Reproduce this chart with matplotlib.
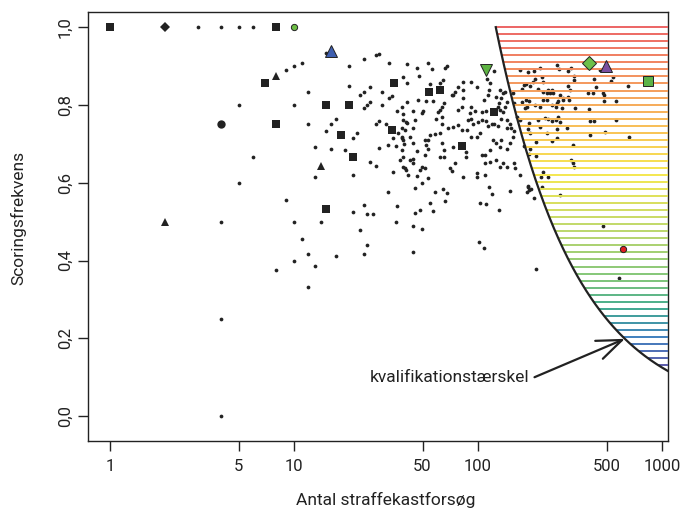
import numpy as np
import matplotlib
matplotlib.use('Agg')
import matplotlib.pyplot as plt
from matplotlib.colors import LinearSegmentedColormap

plt.rcParams['font.family'] = ['Roboto', 'DejaVu Sans']

#------------------------------------------------------------------
# data: (attempts, scoring frequency)
#------------------------------------------------------------------

# few attempts (integer fractions)
dots_low = [(3, 1.0), (4, 1.0), (5, 1.0), (6, 1.0), (4, 0.5), (4, 0.25), (4, 0.0),
            (5, 0.8), (5, 0.6), (6, 0.667), (8, 0.375), (9, 0.889), (10, 0.9), (11, 0.909),
            (12, 0.833), (10, 0.8), (12, 0.75), (13, 0.692), (13, 0.615), (9, 0.556),
            (10, 0.5), (14, 0.5), (11, 0.455), (12, 0.417), (10, 0.4), (13, 0.385),
            (12, 0.333)]

# below the qualification threshold
dots_mid = [(15, 0.933), (20, 0.9), (24, 0.917), (28, 0.929), (29, 0.931), (33, 0.909), (41, 0.905),
            (20, 0.85), (23, 0.826), (24, 0.833), (26, 0.846), (30, 0.833), (33, 0.818), (34, 0.824),
            (41, 0.857), (24, 0.792), (25, 0.8), (26, 0.808), (30, 0.8), (36.5, 0.784), (38.6, 0.795),
            (41.4, 0.808), (17, 0.765), (16, 0.75), (15, 0.733), (22, 0.727), (21, 0.714), (28, 0.75),
            (29, 0.759), (31.6, 0.75), (38.5, 0.742), (40.5, 0.756), (34.6, 0.714), (38.6, 0.716),
            (36.9, 0.728), (32.5, 0.696), (35.8, 0.694), (39.6, 0.699), (16, 0.688), (19, 0.684),
            (29, 0.69), (26, 0.654), (28, 0.643), (37.7, 0.658), (40, 0.637),
            (46.4, 0.894), (53.7, 0.907), (56, 0.892), (66.3, 0.896), (68.1, 0.9), (47.6, 0.875),
            (39, 0.871), (54.8, 0.855), (64.9, 0.864), (62, 0.857), (92, 0.859), (83.3, 0.858),
            (78, 0.847), (75, 0.834), (73.6, 0.825), (83.3, 0.838), (82.8, 0.817), (99, 0.847),
            (111.7, 0.868), (117, 0.857), (123, 0.888), (115, 0.838), (108, 0.814), (114, 0.825),
            (132, 0.838), (137, 0.832), (141, 0.834), (126, 0.821), (134, 0.817), (144, 0.808),
            (130, 0.804), (47.4, 0.812), (52.5, 0.81), (57, 0.81), (39.4, 0.776), (44.6, 0.784),
            (49.5, 0.78), (50.6, 0.785), (65, 0.804), (63.5, 0.795), (62, 0.787), (60.7, 0.782),
            (72, 0.825), (82, 0.795), (78.4, 0.787), (92, 0.795), (90.5, 0.78), (96.5, 0.785),
            (104.9, 0.782), (110, 0.785), (128, 0.795), (132, 0.787), (137, 0.782), (141, 0.795),
            (39.4, 0.761), (41, 0.754), (45.3, 0.761), (40, 0.735), (44.6, 0.742), (59.5, 0.765),
            (63.5, 0.768), (63.5, 0.752), (69, 0.742), (73.6, 0.744), (78.4, 0.748), (82, 0.735),
            (86.9, 0.735), (88.6, 0.761), (92, 0.765), (94, 0.752), (99.7, 0.757), (105, 0.761),
            (111, 0.759), (114, 0.746), (118.6, 0.752), (123, 0.752), (128, 0.746), (134, 0.765),
            (143, 0.761), (149, 0.752), (143, 0.742), (152, 0.742), (158, 0.733), (155, 0.718),
            (38.5, 0.718), (39.4, 0.71), (42.7, 0.718), (44.6, 0.701), (51.6, 0.711), (53.6, 0.71),
            (52.5, 0.697), (54.8, 0.722), (62, 0.727), (58.5, 0.725), (73.6, 0.692), (63.5, 0.701),
            (65, 0.684), (86, 0.679), (86, 0.667), (98.4, 0.718), (102.5, 0.727), (92, 0.718),
            (121, 0.71), (126, 0.701), (132, 0.692), (134, 0.71), (143, 0.688), (149, 0.701),
            (105, 0.671), (109, 0.671), (116, 0.684), (38.5, 0.684), (39.4, 0.667), (44.6, 0.662),
            (46.4, 0.681), (51.6, 0.671), (53.6, 0.688), (62, 0.667), (65, 0.667), (42.7, 0.658),
            (44.6, 0.651), (49.5, 0.641), (51.6, 0.637), (39.4, 0.641), (70.4, 0.637), (75, 0.65),
            (109, 0.65), (116, 0.654), (126, 0.658), (132, 0.641), (143, 0.641), (158, 0.65),
            (160, 0.637), (21, 0.619), (34.6, 0.628), (40.6, 0.634), (41.6, 0.619), (21, 0.524),
            (24, 0.542), (25, 0.52), (27, 0.519), (32.6, 0.576), (36.5, 0.541), (36, 0.5),
            (23, 0.478), (17, 0.412), (25, 0.44), (24, 0.417), (48.4, 0.632), (46.4, 0.617),
            (49.5, 0.6), (53.7, 0.611), (45.3, 0.587), (58.5, 0.577), (64.3, 0.585), (67.5, 0.574),
            (66.3, 0.553), (54.8, 0.547), (56.7, 0.527), (48.4, 0.531), (45.3, 0.523), (44.6, 0.489),
            (49.5, 0.48), (44.6, 0.422), (72.6, 0.63), (82.7, 0.615), (98.4, 0.625), (98.4, 0.615),
            (109.6, 0.621), (137.5, 0.651), (169, 0.62), (186, 0.591), (190, 0.581), (115, 0.589),
            (120, 0.57), (149, 0.579), (102.5, 0.548), (111, 0.545), (130, 0.53), (101, 0.447),
            (108, 0.431), (155, 0.831), (158, 0.804), (163, 0.768)]

# above the qualification threshold
dots_high = [(268, 0.904), (322, 0.896), (310, 0.887), (277, 0.892), (460, 0.891), (331, 0.874),
             (332, 0.864), (429, 0.868), (527, 0.861), (541, 0.871), (655, 0.849), (440, 0.847),
             (310, 0.848), (316, 0.838), (169, 0.889), (187, 0.885), (201, 0.887), (217, 0.894),
             (205, 0.868), (222, 0.872), (200, 0.859), (225, 0.858), (177, 0.851), (182, 0.853),
             (192, 0.848), (173, 0.842), (212, 0.84), (227, 0.834), (238, 0.83), (246, 0.83),
             (257, 0.831), (252, 0.838), (241, 0.838), (279, 0.825), (290, 0.817), (310, 0.821),
             (313, 0.812), (398, 0.83), (424, 0.83), (476, 0.831), (482, 0.825), (173, 0.808),
             (182, 0.812), (190, 0.81), (180, 0.791), (185, 0.795), (205, 0.8), (217, 0.795),
             (227, 0.812), (238, 0.812), (252, 0.8), (268, 0.805), (272, 0.81), (290, 0.814),
             (285, 0.791), (265, 0.795), (339, 0.791), (402, 0.79), (486, 0.81), (565, 0.811),
             (169, 0.761), (190, 0.754), (212, 0.761), (231, 0.767), (241, 0.763), (253, 0.758),
             (265, 0.761), (272, 0.768), (281, 0.757), (406, 0.758), (426, 0.758), (560, 0.761),
             (187, 0.737), (193, 0.727), (217, 0.744), (237, 0.728), (268, 0.737), (306, 0.74),
             (490, 0.731), (406, 0.724), (659, 0.718), (177, 0.694), (192, 0.686), (206, 0.705),
             (252, 0.708), (268, 0.714), (327, 0.696), (190, 0.674), (206, 0.668), (320, 0.658),
             (327, 0.65), (331, 0.641), (225, 0.628), (220, 0.614), (239, 0.615), (187, 0.589),
             (195, 0.583), (185, 0.577), (222, 0.589), (201, 0.56), (281, 0.568), (476, 0.489),
             (583, 0.355), (208, 0.379)]

# highlighted players
squares = [(1, 1.0), (8, 1.0), (7, 0.857), (8, 0.75), (15, 0.8), (20, 0.8), (18, 0.722),
           (21, 0.667), (15, 0.533), (35, 0.857), (34, 0.735), (54, 0.833), (62, 0.838),
           (82, 0.694), (123, 0.782)]
triangles = [(2, 0.5), (8, 0.875), (14, 0.643)]
diamonds = [(2, 1.0)]
big_circles = [(4, 0.75)]

# coloured players: (n, p, marker, colour, size)
colored = [(10, 1.0, 'o', '#6dbe45', 4.5),
           (16, 0.9375, '^', '#3f5fb0', 9),
           (111, 0.891, 'v', '#5db342', 9),
           (400, 0.908, 'D', '#6cbf4a', 7.5),
           (496, 0.901, '^', '#7a4fa0', 9),
           (838, 0.861, 's', '#5cb347', 7.5),
           (612, 0.429, 'o', '#e02020', 4.5)]

# qualification threshold: at least 125 scored
min_scored = 125
hatch_step = 0.0181

xticks = [1, 5, 10, 50, 100, 500, 1000]
yticks = [0.0, 0.2, 0.4, 0.6, 0.8, 1.0]
ytick_labels = ['0,0', '0,2', '0,4', '0,6', '0,8', '1,0']

#------------------------------------------------------------------
# plot
#------------------------------------------------------------------

W, H = 682, 511
fig = plt.figure(figsize=(W / 100, H / 100), dpi=100)
ax = fig.add_axes([88 / W, 1 - 441 / H, (668 - 88) / W, (441 - 12) / H])

xmin, xmax = 0.76, 1079
ax.set_xscale('log')
ax.set_xlim(xmin, xmax)
ax.set_ylim(-0.064, 1.039)

dark = '#222222'

# points
for group in (dots_low, dots_mid, dots_high):
    n, p = zip(*group)
    ax.plot(n, p, 'o', ms=2.7, color=dark, mec=dark, mew=0, zorder=2)

n, p = zip(*squares)
ax.plot(n, p, 's', ms=5.2, color=dark, mew=0, zorder=2)
n, p = zip(*triangles)
ax.plot(n, p, '^', ms=6, color=dark, mew=0, zorder=2)
n, p = zip(*diamonds)
ax.plot(n, p, 'D', ms=5.2, color=dark, mew=0, zorder=2)
n, p = zip(*big_circles)
ax.plot(n, p, 'o', ms=6, color=dark, mew=0, zorder=2)

# hatched area above the threshold
cmap = LinearSegmentedColormap.from_list('thr', [
    (0.00, '#5a5aaa'), (0.08, '#3f7fbf'), (0.17, '#3fa98e'), (0.25, '#7cc47a'),
    (0.38, '#b6d56e'), (0.57, '#f6e84e'), (0.71, '#f8be55'), (0.83, '#f49a5c'),
    (1.00, '#ec6464')])
levels = []
y = 1.0
while min_scored / y < xmax:
    levels.append(y)
    y -= hatch_step
ylo = levels[-1]
for y in levels:
    ax.hlines(y, min_scored / y, xmax, color=cmap((y - ylo) / (1.0 - ylo)), lw=1.4, zorder=3)

# threshold curve
xc = np.geomspace(min_scored, xmax, 300)
ax.plot(xc, min_scored / xc, color=dark, lw=1.6, zorder=4)

for n, p, m, c, s in colored:
    ax.plot(n, p, m, ms=s, color=c, mec=dark, mew=0.7, zorder=5)

# annotation
tip = 629
ax.text(190, 0.10, 'kvalifikationstærskel', ha='right', va='center', fontsize=12.5, color=dark)
ax.annotate('', xy=(tip, min_scored / tip), xytext=(203, 0.10),
            arrowprops=dict(arrowstyle='->,head_length=0.9,head_width=0.35', color=dark,
                            lw=1.6, shrinkA=0, shrinkB=0, mutation_scale=20))

# axes
for s in ax.spines.values():
    s.set_color(dark)
    s.set_linewidth(1.0)
ax.set_xticks(xticks)
ax.set_xticklabels([str(v) for v in xticks])
ax.xaxis.set_minor_locator(matplotlib.ticker.NullLocator())
ax.set_yticks(yticks)
ax.set_yticklabels(ytick_labels, rotation=90, va='center')
ax.tick_params(axis='both', length=7, width=1.0, color=dark, labelsize=12, labelcolor=dark)
ax.tick_params(axis='x', pad=6)
ax.tick_params(axis='y', pad=4)

fig.text(386 / W, 1 - 500 / H, 'Antal straffekastforsøg', ha='center', va='center',
         fontsize=12.5, color=dark)
fig.text(18 / W, 1 - 218 / H, 'Scoringsfrekvens', ha='center', va='center',
         rotation=90, fontsize=12.5, color=dark)

fig.savefig('out.png', dpi=100)
